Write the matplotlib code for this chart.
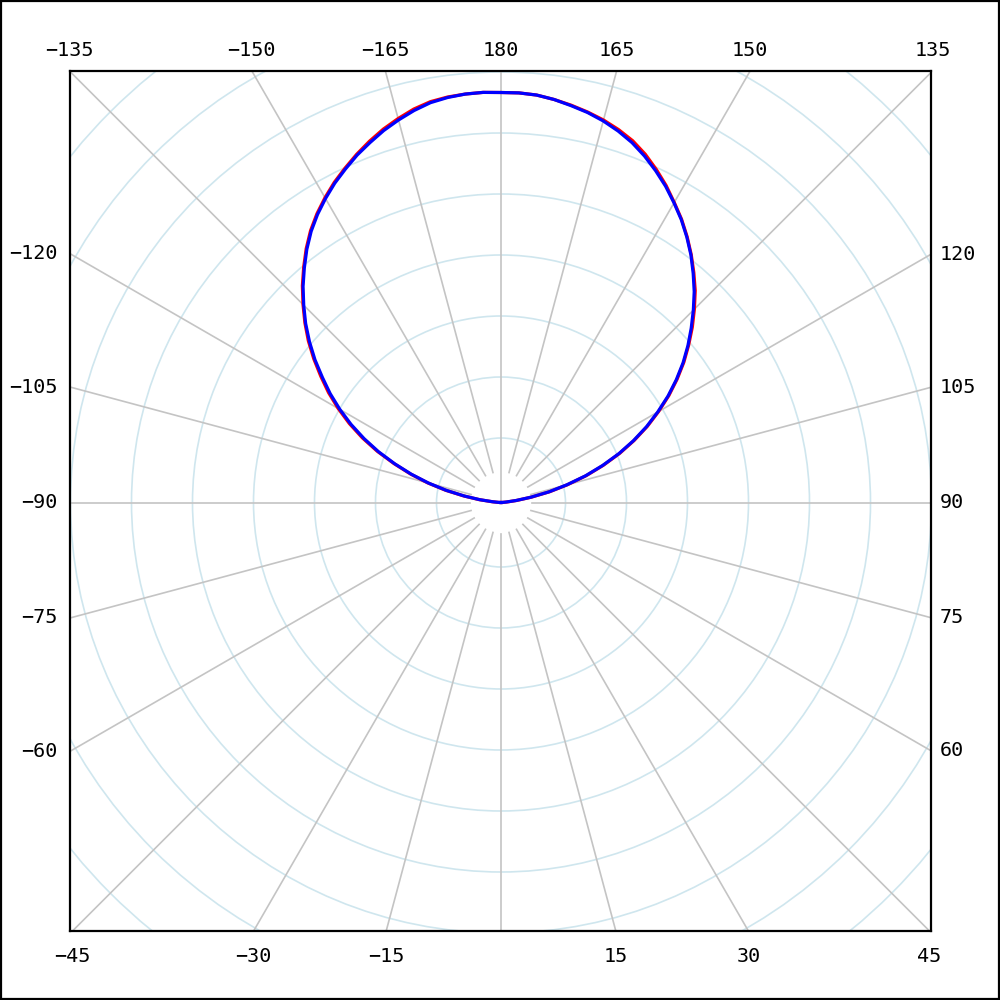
import numpy as np
import matplotlib
matplotlib.use("Agg")
import matplotlib.pyplot as plt
from matplotlib.patches import Circle, Rectangle

# pattern angles (deg): 0 at bottom, 90 right, 180 top, 270 (= -90) left
theta_deg = np.arange(90, 270.1, 2.5)

# radius (same units as the grid rings)
# right half, theta 90 -> 180
r_blue_right = [0, 1, 5, 15, 30, 49, 68, 88.5, 108, 127.5, 146, 164, 181,
                198, 214, 229.5, 244, 258, 272, 286, 299, 312, 324, 335.5,
                346, 356.5, 366, 375, 383, 389.5, 395, 399.5, 403, 406.5,
                409, 410, 410]
# left half, theta 182.5 -> 270
r_blue_left = [410.5, 410, 408.5, 406, 401.5, 396, 390, 383, 376, 368, 360,
               351, 341.5, 331, 319, 306, 293, 279, 265, 250, 234.5, 218,
               202.5, 186, 169, 151, 132.5, 113, 94, 75, 56, 37, 21, 8, 2, 0]

r_red_right = [0, 1.5, 6, 16, 31, 50, 69, 89.5, 109, 128.5, 147, 165, 182,
               199, 215, 230.5, 245, 259.5, 273.5, 287.5, 300, 312.5, 324.5,
               336, 346.5, 357.5, 367.5, 377, 385, 391, 396, 400, 403.5,
               406.5, 409, 410, 410]
r_red_left = [410.5, 410, 409, 407, 403, 397.5, 391.5, 384.5, 377, 369, 361,
              352, 342.5, 332, 320, 307, 294, 280, 266, 251.5, 236, 220,
              204.5, 188, 171, 153, 134, 114, 95, 76, 57, 38, 22, 9, 2.5, 0]

# label angles around the frame
top_labels = [-135, -150, -165, 180, 165, 150, 135]
bottom_labels = [-45, -30, -15, 15, 30, 45]
left_labels = [-120, -105, -90, -75, -60]
right_labels = [120, 105, 90, 75, 60]

SPOKE_STEP = 15
RING_STEP = 61.0
RING_OFFSET = 3.5
N_RINGS = 10
XL = (-431, 430)
YL = (-428.5, 431.5)


def to_xy(theta, r):
    t = np.radians(theta)
    return r * np.sin(t), -r * np.cos(t)


def fmt(v):
    return str(v).replace("-", "\u2212")


fig = plt.figure(figsize=(10, 10), dpi=100)
fig.patches.append(Rectangle((0.001, 0.001), 0.998, 0.998, transform=fig.transFigure,
                             fill=False, edgecolor="black", linewidth=1.6))
ax = fig.add_axes([0.070, 0.069, 0.861, 0.860])
ax.set_xlim(*XL)
ax.set_ylim(*YL)
ax.set_xticks([])
ax.set_yticks([])
for s in ax.spines.values():
    s.set_linewidth(1.6)
    s.set_zorder(10)

# rings
for k in range(1, N_RINGS + 1):
    ax.add_patch(Circle((0, 0), RING_OFFSET + RING_STEP * k, fill=False,
                        edgecolor="#cfe6ee", linewidth=1.2, zorder=1))

# spokes
for a in range(-180, 180, SPOKE_STEP):
    r0 = 0 if a == -180 else 31
    x0, y0 = to_xy(a, r0)
    x1, y1 = to_xy(a, 800)
    ax.plot([x0, x1], [y0, y1], color="#c4c4c4", linewidth=1.2, zorder=2)

# pattern traces
r_red = np.array(r_red_right + r_red_left)
r_blue = np.array(r_blue_right + r_blue_left)
xr, yr = to_xy(theta_deg, r_red)
ax.plot(xr, yr, color="#ff0000", linewidth=2.3, zorder=4)
xb, yb = to_xy(theta_deg, r_blue)
ax.plot(xb, yb, color="#0000ff", linewidth=2.3, zorder=5)

# labels around the frame
font = dict(family="DejaVu Sans Mono", fontsize=14.5, color="black")
for a in top_labels:
    x = -YL[1] * np.tan(np.radians(a))
    ax.text(x, YL[1] + 20, fmt(a), ha="center", va="center", clip_on=False, **font)
for a in bottom_labels:
    x = -YL[0] * np.tan(np.radians(a))
    ax.text(x, YL[0] - 25, fmt(a), ha="center", va="center", clip_on=False, **font)
for a in left_labels:
    y = -XL[0] / np.tan(np.radians(a))
    ax.text(XL[0] - 12, y, fmt(a), ha="right", va="center", clip_on=False, **font)
for a in right_labels:
    y = -XL[1] / np.tan(np.radians(a))
    ax.text(XL[1] + 9, y, fmt(a), ha="left", va="center", clip_on=False, **font)

fig.savefig("out.png", dpi=100, facecolor="white")
